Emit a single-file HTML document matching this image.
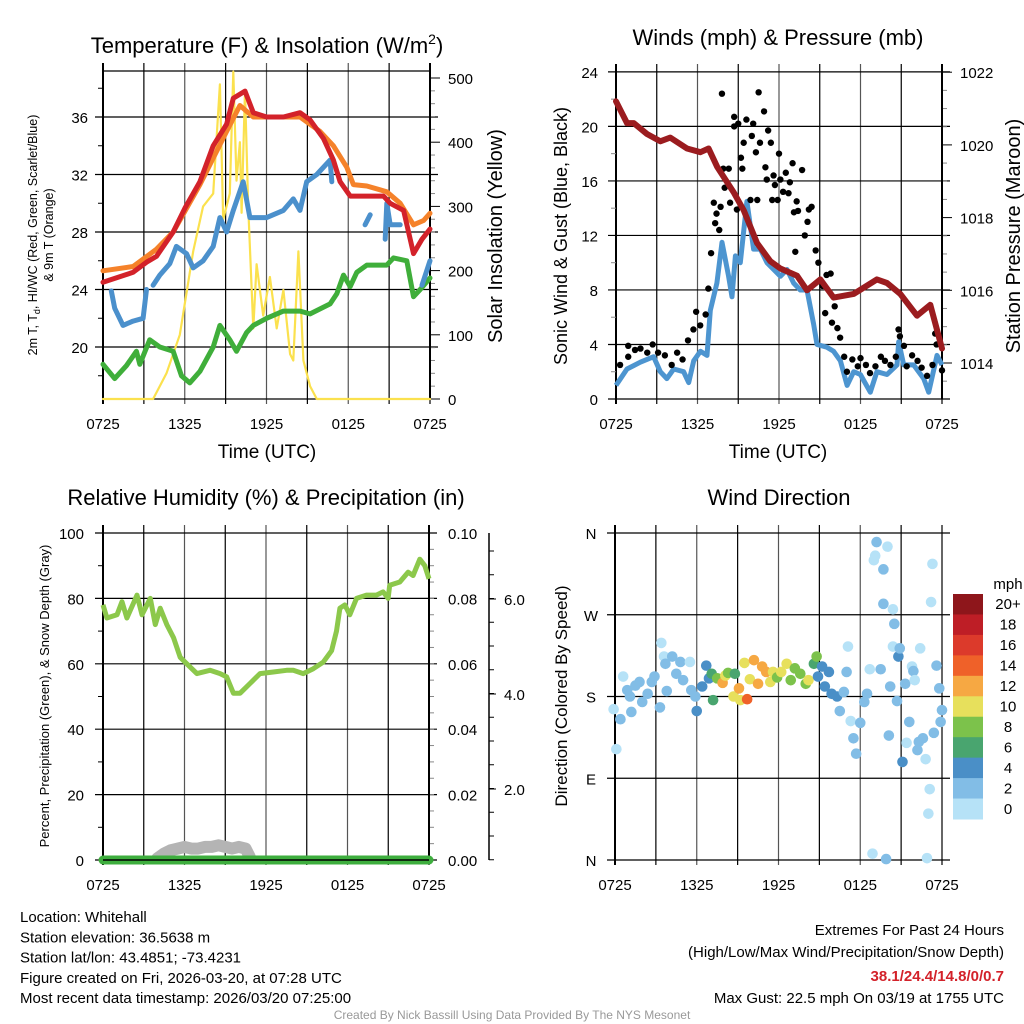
<!DOCTYPE html>
<html><head><meta charset="utf-8"><style>
html,body{margin:0;padding:0;background:#fff;}
svg{display:block;font-family:"Liberation Sans",Arial,sans-serif;}
</style></head><body>
<svg id="c" width="1024" height="1024" viewBox="0 0 1024 1024" xmlns="http://www.w3.org/2000/svg"></svg>
<script>
// ---------- data ----------
const xTickLabels=["0725","1325","1925","0125","0725"];
// Temperature panel
const redH=[0,2.21,3.19,3.92,5.15,6.03,7.11,8.09,9.07,9.56,10.42,11.03,12.01,13.24,14.46,15.2,16.18,16.91,17.4,18.14,19.36,20.59,21.08,22.06,22.79,23.41,24];
const redV=[24.5,25.2,25.9,26.3,28,29.7,31.5,34,35.5,37.3,37.8,36.3,36,36,36.3,35.8,34.5,33,31.5,30.5,30.5,30.5,30,29.5,26.5,27.5,28.2];
const orgH=[0,2.21,3.92,5.15,7.11,9.07,10.05,11.03,14.46,15.93,16.91,17.89,18.38,19.36,20.83,21.81,22.79,23.53,24];
const orgV=[25.3,25.6,26.8,28,31.3,35,36.8,36,36,35,34,32.5,31.3,31.2,30.8,30,28.5,28.8,29.3];
const bluH=[0.61,0.86,1.47,2.21,2.94,3.19,null,3.68,4.17,4.9,5.39,6.13,6.62,7.35,8.09,8.58,9.07,9.56,10.29,10.78,12.01,13.24,13.97,14.46,14.95,15.69,16.67,16.79,null,19.24,19.61,null,20.71,20.83,21.08,21.81,null,23.41,24];
const bluV=[23.9,22.7,21.5,21.8,22,24,null,24.3,25,25.8,27,26.5,25.5,26,27,29,28,29.5,31.5,29,29,29.5,30.3,29.5,31.5,32,33,31.5,null,28.5,29.2,null,27.5,30,28.5,28.5,null,24.3,26];
const grnH=[0,0.86,1.72,2.45,2.7,3.43,4.17,5.15,5.76,6.37,7.11,8.09,8.58,9.31,9.8,10.54,11.03,12.01,13.24,14.46,15.2,16.67,17.16,17.65,18.14,18.63,19.36,20.83,21.32,22.3,22.79,23.28,24];
const grnV=[18.8,17.8,18.7,19.7,18.8,20.5,20,19.7,18,17.5,18.3,20,21.5,20.5,19.7,21,21.5,22,22.5,22.5,22.3,23,23.7,25,24.2,25.2,25.7,25.7,26.2,26,23.5,24,24.8];
const solH=[0,3.68,4.66,5.64,6.62,7.35,8.09,8.58,8.82,9.31,9.56,9.8,10.05,10.17,10.42,10.66,11.03,11.27,11.76,12.25,12.75,13.24,13.73,13.97,14.34,14.71,15.2,15.69,24];
const solV=[0,0,40,100,230,300,320,490,280,320,510,340,400,290,480,300,110,210,130,190,110,170,70,60,230,60,20,0,0];
// Winds panel
const windH=[0,0.81,1.79,2.77,3.26,3.75,4.25,4.98,5.35,5.72,6.21,6.7,6.94,7.43,7.8,8.29,8.54,8.79,9.15,9.64,10.13,10.63,11.12,11.61,12.1,12.59,13.08,13.57,14.06,14.55,14.8,15.53,16.02,16.52,17.01,17.5,17.99,18.72,19.21,19.95,20.69,20.81,21.18,21.91,22.65,23.02,23.63,24];
const windV=[1,2.2,2.7,3.1,2,1.5,2.2,2,1.2,2.8,3.5,3.2,6.5,8.5,11.5,9,7.5,10.5,10,14.5,11,11,10,9.5,9,9.5,8.5,8,8,5.5,4,3.8,3.5,2.8,1,2,1.8,0.5,2,1.8,2.5,4.2,2.5,2.5,1.5,0.5,3.2,2.5];
const gustH=[0.3,0.9,0.9,1.4,1.8,2.3,2.7,3.1,3.6,4.1,4.5,4.9,5.3,5.7,5.9,6.2,6.6,6.8,7.0,7.2,7.3,7.4,7.6,7.7,7.8,7.9,8.0,8.3,8.4,8.7,8.7,8.9,9.0,9.2,9.3,9.4,9.6,9.9,10.0,10.1,10.3,10.4,10.5,10.6,10.9,11.0,11.1,11.2,11.4,11.5,11.6,11.7,11.9,12.0,12.1,12.3,12.5,12.7,12.8,13.0,13.1,13.2,13.3,13.4,13.7,13.9,14.1,14.2,14.4,14.7,14.9,15.2,15.4,15.5,15.8,15.9,16.1,16.3,16.5,16.8,17.0,17.4,17.8,18.0,18.4,18.7,19.1,19.5,19.8,20.2,20.6,20.8,20.9,21.2,21.4,21.8,22.2,22.5,22.9,23.3,23.5,23.6,24.0];
const gustV=[2.5,3.1,3.9,3.6,3.7,3.4,4.0,3.4,3.2,2.5,3.4,2.9,4.3,5.1,6.4,5.4,6.2,8.1,10.7,14.4,12.9,13.6,12.4,14.1,22.4,16.9,15.5,16.9,14.4,20,20.7,13.9,20.2,17.7,16.9,18.8,20.5,14.6,19.3,20.2,18.1,14.6,22.5,18.8,21.1,17.0,16.1,19.7,18.8,14.6,16.4,15.7,14.6,18.0,16.1,15.2,16.6,15.1,15.9,17.3,13.7,10.8,14.5,13.8,16.8,12.0,13.0,13.9,14.1,10.9,10.0,8.3,6.3,9.1,9.2,5.6,6.8,5.2,4.5,3.1,2.0,2.9,2.4,3.0,2.5,1.9,2.4,3.1,2.8,2.5,3.1,5.1,4.6,3.9,2.4,3.2,2.8,2.3,1.7,2.5,4.8,4.0,2.1];
const presH=[0,0.81,1.3,2.28,3.26,4,5.23,6.21,6.82,7.44,8.66,9.4,10.38,11.36,12.1,13.33,14.06,15.04,16.02,17.5,19.21,19.95,20.93,22.16,23.14,24];
const presV=[1021.2,1020.6,1020.6,1020.3,1020.1,1020.2,1019.9,1019.8,1019.9,1019.4,1018.7,1018.2,1017.3,1016.8,1016.6,1016.4,1016.0,1016.3,1015.8,1015.9,1016.3,1016.2,1015.9,1015.3,1015.6,1014.4];
// RH panel
const rhH=[0,0.29,1.03,1.4,1.76,2.5,2.87,3.48,3.85,4.21,4.7,5.19,5.68,6.17,6.91,7.88,8.62,9.11,9.6,10.09,10.83,11.56,12.54,13.52,14.01,14.74,15.48,16.21,16.83,17.19,17.44,17.8,18.17,18.66,19.4,20.13,20.62,20.99,21.11,21.85,22.46,22.83,23.32,23.69,24];
const rhV=[78,74,75,79,74,81,75,80,72,77,72,68,62,60,57,58,57,56,51,51,54,57,57.5,58,58,57,58.5,60.5,64,70,77,78,75,80,81,81,82,80,84,85,88,87,92,90,86];
const snowH=[4,4.5,5,5.5,6,6.5,7,7.5,8,8.5,9,9.5,10,10.5,10.8];
const snowV=[0.5,2,3,3.5,4,3.5,3.5,4,4,4.5,4,3.5,4,3.5,1];
// Wind direction panel
const dirH=[-0.1,0.1,0.4,0.6,0.9,1.1,1.2,1.5,1.8,2.0,2.4,2.7,2.9,3.3,3.4,3.6,3.7,3.8,4.2,4.5,4.8,5.0,5.5,5.6,5.9,6.0,6.4,6.7,6.9,7.1,7.2,7.5,7.9,8.1,8.3,8.7,8.8,9.1,9.2,9.5,9.7,9.9,10.2,10.5,10.8,11.1,11.4,11.6,11.9,12.2,12.6,12.9,13.2,13.6,14.0,14.2,14.6,14.8,14.9,15.2,15.4,15.7,15.9,16.3,16.5,16.8,17.0,17.1,17.3,17.5,17.7,18.0,18.3,18.5,18.7,18.9,19.0,19.1,19.2,19.5,19.7,19.7,19.9,20.0,20.1,20.2,20.4,20.4,20.5,20.7,20.8,20.9,21.1,21.3,21.4,21.6,21.8,21.9,22.0,22.2,22.3,22.4,22.6,22.8,22.9,23.0,23.1,23.2,23.3,23.4,23.6,23.8,23.9,24.0];
const dirD=[166,122,155,202,187,180,163,192,196,174,183,196,202,168,239,224,216,186,224,205,218,198,218,187,180,164,191,214,200,205,176,200,195,203,206,180,205,189,176,217,177,199,220,194,213,207,196,207,201,207,216,198,211,205,194,198,216,224,202,213,191,207,183,180,164,185,207,235,153,134,117,151,174,183,210,7,330,335,350,210,282,320,1,345,137,191,235,276,260,175,224,233,108,194,129,152,213,208,198,121,130,233,134,111,2,51,78,284,326,140,214,189,152,165];
const dirS=[1,1,2,1,2,2,2,2,2,2,2,2,2,2,1,1,2,2,2,2,2,2,1,2,3,4,4,4,4,6,7,8,12,10,9,10,7,13,10,10,15,10,12,12,12,12,10,11,8,10,10,8,8,8,8,10,7,8,4,4,5,4,4,4,3,3,2,1,1,3,3,3,2,3,1,1,1,1,3,3,3,3,3,1,3,3,1,1,2,3,4,3,4,3,1,2,1,3,1,3,3,1,3,1,1,1,1,1,1,3,2,2,3,3];
const cbLabels=["20+","18","16","14","12","10","8","6","4","2","0"];
const cbColors=["#8e161b","#be1e26","#dc3a2b","#ef6129","#f6a843","#e7e05c","#7cc24b","#49a56f","#4a8fc7","#82bde6","#b6e2f7"];

// ---------- drawing ----------
const svg=document.getElementById('c');
const NS="http://www.w3.org/2000/svg";
function el(tag,attrs,parent){const e=document.createElementNS(NS,tag);for(const k in attrs)e.setAttribute(k,attrs[k]);(parent||svg).appendChild(e);return e;}
function txt(s,x,y,size,opts,parent){opts=opts||{};const t=el('text',{x:x,y:y,'font-size':size,'text-anchor':opts.anchor||'middle',fill:opts.fill||'#000'},parent);if(opts.weight)t.setAttribute('font-weight',opts.weight);if(opts.rot)t.setAttribute('transform','rotate('+opts.rot+' '+x+' '+y+')');t.textContent=s;return t;}
function pathFrom(H,V,sx,sy){let d='',pen=false;for(let i=0;i<H.length;i++){if(H[i]===null||V[i]===null){pen=false;continue;}d+=(pen?'L':'M')+sx(H[i]).toFixed(1)+','+sy(V[i]).toFixed(1);pen=true;}return d;}

function panel(name,x0,x1,y0,y1){
  const g=el('g',{});
  
  
  const sx=h=>x0+(x1-x0)*h/24;
  for(let i=0;i<=8;i++){const x=sx(i*3);const l=el('line',{x1:x,x2:x,y1:y0-8,y2:y1+5,stroke:(i%2==0&&i>0&&i<8)?'#555':'#000','stroke-width':i==0?2:1.2},g);}
  for(let i=0;i<xTickLabels.length;i++){const t=txt(xTickLabels[i],sx(i*6),y1+30,15,{},g);}
  return {g,sx};
}
function hgrid(g,x0,x1,y,ext){const l=el('line',{x1:x0-(ext||8),x2:x1+8,y1:y,y2:y,stroke:'#000','stroke-width':1.2},g);}

// ===== Panel 1: Temperature =====
(function(){
  const X0=103,X1=430,Y0=71,Y1=399;
  const {g,sx}=panel('temperature-panel',X0,X1,Y0,Y1);
  const sy=v=>347-(v-20)*14.375;
  const syS=v=>399-v*0.642;
  [20,24,28,32,36].forEach(v=>{hgrid(g,X0,X1,sy(v));const t=txt(String(v),88,sy(v)+6,15,{anchor:'end'},g);});
  for(let v=18;v<=38;v+=2){if(v%4)el('line',{x1:X0-5,x2:X0,y1:sy(v),y2:sy(v),stroke:'#000'},g);}
  [0,100,200,300,400,500].forEach(v=>{el('line',{x1:X1,x2:X1+10,y1:syS(v),y2:syS(v),stroke:'#000'},g);const t=txt(String(v),448,syS(v)+6,15,{anchor:'start'},g);});
  for(let v=20;v<520;v+=20){if(v%100)el('line',{x1:X1,x2:X1+5,y1:syS(v),y2:syS(v),stroke:'#888'},g);}
  el('line',{x1:X1,x2:X1,y1:Y0-8,y2:Y1,stroke:'#000','stroke-width':2},g);
  el('line',{x1:X0,x2:X1,y1:Y0,y2:Y0,stroke:'#000','stroke-width':1.2},g);
  el('line',{x1:X0,x2:X1,y1:Y1,y2:Y1,stroke:'#000','stroke-width':1.2},g);
  const series=[['solar-insolation-line',solH,solV,syS,'#fbe14e',2.2],['dewpoint-line',grnH,grnV,sy,'#3fae3a',5],['wind-chill-line',bluH,bluV,sy,'#4b90cc',5],['9m-temperature-line',orgH,orgV,sy,'#f5822a',5],['2m-temperature-line',redH,redV,sy,'#d3222a',5]];
  series.forEach(s=>{const p=el('path',{d:pathFrom(s[1],s[2],sx,s[3]),fill:'none',stroke:s[4],'stroke-width':s[5],'stroke-linejoin':'round','stroke-linecap':'round'},g);});
  const t1=el('text',{x:267,y:53,'font-size':22,'text-anchor':'middle'},g);t1.innerHTML='Temperature (F) &amp; Insolation (W/m<tspan dy="-9" font-size="14">2</tspan><tspan dy="9">)</tspan>';
  
  const a=el('text',{x:37,y:235,'font-size':12.5,'text-anchor':'middle',transform:'rotate(-90 37 235)'},g);a.innerHTML='2m T, T<tspan dy="3" font-size="9">d</tspan><tspan dy="-3">, HI/WC (Red, Green, Scarlet/Blue)</tspan>';
  
  const b=txt('& 9m T (Orange)',53,235,12.5,{rot:-90},g);
  const c=txt('Solar Insolation (Yellow)',502,236,20,{rot:-90},g);
  const d=txt('Time (UTC)',267,458,19,{},g);
})();

// ===== Panel 2: Winds =====
(function(){
  const X0=616,X1=942,Y0=72,Y1=399;
  const {g,sx}=panel('winds-panel',X0,X1,Y0,Y1);
  const sy=v=>399-v*13.63;
  const syP=v=>363-(v-1014)*36.35;
  [0,4,8,12,16,20,24].forEach(v=>{hgrid(g,X0,X1,sy(v));const t=txt(String(v),598,sy(v)+6,15,{anchor:'end'},g);});
  for(let v=2;v<24;v+=4)el('line',{x1:X0-5,x2:X0,y1:sy(v),y2:sy(v),stroke:'#888'},g);
  [1014,1016,1018,1020,1022].forEach(v=>{el('line',{x1:X1,x2:X1+10,y1:syP(v),y2:syP(v),stroke:'#000'},g);const t=txt(String(v),960,syP(v)+6,15,{anchor:'start'},g);});
  for(let v=1013.5;v<1022;v+=0.5){if(v%2)el('line',{x1:X1,x2:X1+5,y1:syP(v),y2:syP(v),stroke:'#888'},g);}
  el('line',{x1:X1,x2:X1,y1:Y0-8,y2:Y1,stroke:'#000','stroke-width':2},g);
  const w=el('path',{d:pathFrom(windH,windV,sx,sy),fill:'none',stroke:'#4d95d0','stroke-width':5,'stroke-linejoin':'round'},g);
  
  for(let i=0;i<gustH.length;i++){const c=el('circle',{cx:sx(gustH[i]),cy:sy(gustV[i]),r:3.2,fill:'#000'},g);}
  const p=el('path',{d:pathFrom(presH,presV,sx,syP),fill:'none',stroke:'#9b1c1f','stroke-width':6,'stroke-linejoin':'round','stroke-linecap':'round'},g);
  
  const t=txt('Winds (mph) & Pressure (mb)',778,45,22,{},g);
  const a=txt('Sonic Wind & Gust (Blue, Black)',567,236,18,{rot:-90},g);
  const b=txt('Station Pressure (Maroon)',1020,236,20,{rot:-90},g);
  const d=txt('Time (UTC)',778,458,19,{},g);
})();

// ===== Panel 3: RH =====
(function(){
  const X0=103,X1=429,Y0=533,Y1=860;
  const {g,sx}=panel('humidity-panel',X0,X1,Y0,Y1);
  const sy=v=>860-v*3.27;
  [0,20,40,60,80,100].forEach((v,i)=>{hgrid(g,X0,X1,sy(v));const t=txt(String(v),84,sy(v)+6,15,{anchor:'end'},g);const u=txt((v/1000).toFixed(2),448,sy(v)+6,15,{anchor:'start'},g);});
  for(let v=10;v<100;v+=20)el('line',{x1:X0-5,x2:X0,y1:sy(v),y2:sy(v),stroke:'#000'},g);
  for(let v=5;v<100;v+=5)el('line',{x1:X1,x2:X1+5,y1:sy(v),y2:sy(v),stroke:'#888'},g);
  el('line',{x1:X1,x2:X1,y1:Y0-8,y2:Y1,stroke:'#000','stroke-width':2},g);
  el('line',{x1:489,x2:489,y1:533,y2:860,stroke:'#000','stroke-width':1.5},g);
  [[599,'6.0'],[694,'4.0'],[789,'2.0']].forEach(a=>{el('line',{x1:489,x2:496,y1:a[0],y2:a[0],stroke:'#000'},g);const t=txt(a[1],504,a[0]+6,15,{anchor:'start'},g);});
  for(let y=551;y<860;y+=23.75)el('line',{x1:489,x2:494,y1:y,y2:y,stroke:'#000'},g);
  const s=el('path',{d:pathFrom(snowH,snowV,sx,sy),fill:'none',stroke:'#b4b4b4','stroke-width':12,'stroke-linejoin':'round','stroke-linecap':'round'},g);
  
  const pr=el('line',{x1:sx(0),x2:sx(24),y1:sy(0),y2:sy(0),stroke:'#3eae3e','stroke-width':9,'stroke-linecap':'round'},g);
  
  el('line',{x1:X0,x2:X1,y1:Y1,y2:Y1,stroke:'#000','stroke-width':1.5},g);
  const r=el('path',{d:pathFrom(rhH,rhV,sx,sy),fill:'none',stroke:'#8cc84b','stroke-width':5,'stroke-linejoin':'round'},g);
  
  const t=txt('Relative Humidity (%) & Precipitation (in)',266,505,22,{},g);
  const a=txt('Percent, Precipitation (Green), & Snow Depth (Gray)',49,696,13,{rot:-90},g);
})();

// ===== Panel 4: Wind direction =====
(function(){
  const X0=615,X1=942,Y0=533,Y1=860;
  const {g,sx}=panel('wind-direction-panel',X0,X1,Y0,Y1);
  const sy=d=>860-d*327/360;
  [[360,'N'],[270,'W'],[180,'S'],[90,'E'],[0,'N']].forEach(a=>{hgrid(g,X0,X1,sy(a[0]),8);const t=txt(a[1],591,sy(a[0])+6,15,{},g);});
  function col(s){const i=Math.min(10,Math.floor(s/2));return cbColors[10-i];}
  for(let i=0;i<dirH.length;i++){const c=el('circle',{cx:sx(dirH[i]),cy:sy(dirD[i]),r:5.3,fill:col(dirS[i])},g);}
  const t=txt('Wind Direction',779,505,22,{},g);
  const a=txt('Direction (Colored By Speed)',567,696,17,{rot:-90},g);
  const lg=el('g',{});
  txt('mph',1008,589,15,{},lg);
  const bh=(819-594)/11;
  for(let i=0;i<11;i++){const r=el('rect',{x:953,y:594+i*bh,width:30,height:bh+0.5,fill:cbColors[i]},lg);const l=txt(cbLabels[i],1008,594+i*bh+bh/2+5,15,{},lg);}
})();

// ===== footer =====
const info=["Location: Whitehall","Station elevation: 36.5638 m","Station lat/lon: 43.4851; -73.4231","Figure created on Fri, 2026-03-20, at 07:28 UTC","Most recent data timestamp: 2026/03/20 07:25:00"];
info.forEach((s,i)=>{const t=txt(s,20,922+i*20.3,15,{anchor:'start'});});
let t;
t=txt('Extremes For Past 24 Hours',1004,935,15,{anchor:'end'});
t=txt('(High/Low/Max Wind/Precipitation/Snow Depth)',1004,957,15,{anchor:'end'});
t=txt('38.1/24.4/14.8/0/0.7',1004,981,15,{anchor:'end',fill:'#d3222a',weight:'bold'});
t=txt('Max Gust: 22.5 mph On 03/19 at 1755 UTC',1004,1003,15,{anchor:'end'});
t=txt('Created By Nick Bassill Using Data Provided By The NYS Mesonet',512,1019,12,{fill:'#999'});
</script>
</body></html>
